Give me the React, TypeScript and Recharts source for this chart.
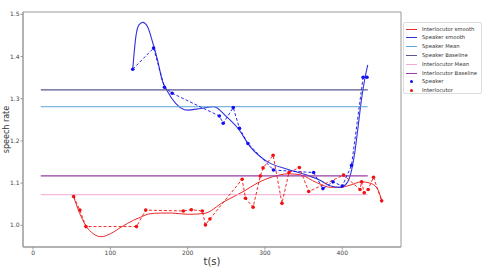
import React from 'react';
import { ComposedChart, Line, XAxis, YAxis, ReferenceArea, Label } from 'recharts';

// Raw observations
const speakerT = [129, 156, 170, 180, 241, 246, 259, 267, 278, 311, 363, 375, 388, 400, 412, 427, 432];
const speakerV = [1.370, 1.420, 1.327, 1.313, 1.259, 1.242, 1.279, 1.230, 1.194, 1.131, 1.125, 1.087, 1.103, 1.093, 1.142, 1.351, 1.351];

const interT = [52.5, 60.6, 68.4, 133.8, 145.8, 194.4, 204.7, 219, 223, 228.8, 270.5, 274.8, 284.7, 294, 297.6, 310.6, 322, 331, 344.5, 356.6, 401.7, 423, 425, 428.4, 433.5, 440.4, 451];
const interV = [1.068, 1.036, 0.997, 0.997, 1.036, 1.034, 1.037, 1.034, 1.001, 1.015, 1.109, 1.064, 1.043, 1.117, 1.136, 1.166, 1.052, 1.125, 1.137, 1.080, 1.119, 1.085, 1.103, 1.077, 1.085, 1.114, 1.058];

// Smoothed curves
const speakerSmoothT = [129, 133, 137, 142, 148, 154.5, 161, 167, 174, 184.5, 199.6, 216.8, 234, 250, 265, 281, 303, 329, 354, 370, 385, 397, 406, 412, 416, 420, 425, 429, 433];
const speakerSmoothV = [1.370, 1.447, 1.475, 1.481, 1.471, 1.435, 1.392, 1.344, 1.317, 1.289, 1.273, 1.277, 1.281, 1.258, 1.230, 1.186, 1.151, 1.133, 1.119, 1.108, 1.093, 1.090, 1.100, 1.130, 1.170, 1.226, 1.300, 1.345, 1.380];

const interSmoothT = [52.5, 60, 68, 78, 88, 100, 115, 130, 140, 150, 165, 180, 200, 221, 247, 273, 290, 310, 330, 345, 367, 385, 397, 410, 425, 436, 445, 451];
const interSmoothV = [1.068, 1.030, 1.000, 0.980, 0.973, 0.980, 0.997, 1.012, 1.020, 1.027, 1.029, 1.029, 1.026, 1.028, 1.056, 1.081, 1.100, 1.115, 1.122, 1.120, 1.101, 1.090, 1.090, 1.095, 1.103, 1.100, 1.088, 1.060];

// Reference levels
const levelSpan = [10, 433];
const speakerMean = 1.281;
const speakerBaseline = 1.321;
const interMean = 1.0725;
const interBaseline = 1.117;

const xTicks = [0, 100, 200, 300, 400];
const yTicks = [1.0, 1.1, 1.2, 1.3, 1.4, 1.5];

const COLORS = {
  interSmooth: '#ea2a2a',
  speakerSmooth: '#3232dc',
  speakerMean: '#5aa6d6',
  speakerBaseline: '#58588e',
  interMean: '#f5a8d2',
  interBaseline: '#9a3aa6',
  speaker: '#1010f0',
  inter: '#f01010',
};

const zip = (t: number[], v: number[]) => t.map((x, i) => ({ t: x, v: v[i] }));
const level = (y: number) => levelSpan.map((x) => ({ t: x, v: y }));

const legendItems = [
  { label: 'Interlocutor smooth', color: COLORS.interSmooth, kind: 'line' },
  { label: 'Speaker smooth', color: COLORS.speakerSmooth, kind: 'line' },
  { label: 'Speaker Mean', color: COLORS.speakerMean, kind: 'line' },
  { label: 'Speaker Baseline', color: COLORS.speakerBaseline, kind: 'line' },
  { label: 'Interlocutor Mean', color: COLORS.interMean, kind: 'line' },
  { label: 'Interlocutor Baseline', color: COLORS.interBaseline, kind: 'line' },
  { label: 'Speaker', color: COLORS.speaker, kind: 'dot' },
  { label: 'Interlocutor', color: COLORS.inter, kind: 'dot' },
];

const FONT = '"DejaVu Sans", sans-serif';

const Dot = (color: string) => (props: any) => {
  const { cx, cy, index } = props;
  if (cx == null || cy == null) return <g key={index} />;
  return <circle key={index} cx={cx} cy={cy} r={1.8} fill={color} stroke="none" />;
};

export default function App() {
  return (
    <div style={{ position: 'absolute', left: 0, top: 0, width: 485, height: 268, background: '#fff' }}>
      <ComposedChart width={485} height={268} margin={{ top: 12, right: 84, bottom: 0, left: 0 }}>
        <XAxis
          type="number"
          dataKey="t"
          domain={[-13, 476]}
          ticks={xTicks}
          allowDataOverflow
          height={21}
          tick={{ fontSize: 6, fill: '#444', fontFamily: FONT }}
          tickSize={2.5}
          tickMargin={1}
          stroke="#999"
        >
          <Label value="t(s)" position="insideBottom" offset={3} style={{ fontSize: 10, fill: '#333', fontFamily: FONT }} />
        </XAxis>
        <YAxis
          type="number"
          dataKey="v"
          domain={[0.9486, 1.5055]}
          ticks={yTicks}
          allowDataOverflow
          width={23}
          tick={{ fontSize: 6, fill: '#444', fontFamily: FONT }}
          tickFormatter={(v: number) => v.toFixed(1)}
          tickSize={2.5}
          tickMargin={1}
          stroke="#999"
        >
          <Label
            value="speech rate"
            angle={-90}
            position="insideLeft"
            offset={6}
            textAnchor="middle"
            style={{ fontSize: 8, fill: '#333', fontFamily: FONT }}
          />
        </YAxis>
        <ReferenceArea x1={-13} x2={476} y1={0.9486} y2={1.5055} fill="none" stroke="#999" strokeWidth={1} />

        <Line data={zip(interSmoothT, interSmoothV)} dataKey="v" type="monotone" stroke={COLORS.interSmooth} strokeWidth={1} dot={false} isAnimationActive={false} />
        <Line data={zip(speakerSmoothT, speakerSmoothV)} dataKey="v" type="monotone" stroke={COLORS.speakerSmooth} strokeWidth={1.1} dot={false} isAnimationActive={false} />
        <Line data={level(speakerMean)} dataKey="v" type="linear" stroke={COLORS.speakerMean} strokeWidth={1} dot={false} isAnimationActive={false} />
        <Line data={level(speakerBaseline)} dataKey="v" type="linear" stroke={COLORS.speakerBaseline} strokeWidth={1.2} dot={false} isAnimationActive={false} />
        <Line data={level(interMean)} dataKey="v" type="linear" stroke={COLORS.interMean} strokeWidth={1} dot={false} isAnimationActive={false} />
        <Line data={level(interBaseline)} dataKey="v" type="linear" stroke={COLORS.interBaseline} strokeWidth={1.2} dot={false} isAnimationActive={false} />
        <Line data={zip(speakerT, speakerV)} dataKey="v" type="linear" stroke={COLORS.speaker} strokeWidth={0.9} strokeDasharray="3 2" dot={Dot(COLORS.speaker)} activeDot={false} isAnimationActive={false} />
        <Line data={zip(interT, interV)} dataKey="v" type="linear" stroke={COLORS.inter} strokeWidth={0.9} strokeDasharray="3 2" dot={Dot(COLORS.inter)} activeDot={false} isAnimationActive={false} />
      </ComposedChart>

      <div
        style={{
          position: 'absolute',
          left: 403,
          top: 22,
          width: 79,
          height: 72,
          boxSizing: 'border-box',
          border: '1px solid #ddd',
          borderRadius: 2,
          background: '#fff',
          fontFamily: FONT,
          fontSize: 5.3,
          color: '#333',
        }}
      >
        {legendItems.map((it, i) => (
          <div key={it.label} style={{ position: 'absolute', left: 0, top: Math.round(1.7 + i * 8.77), height: 8, width: 78, display: 'flex', alignItems: 'center' }}>
            <div style={{ width: 18, height: 8, position: 'relative' }}>
              {it.kind === 'line' ? (
                <div style={{ position: 'absolute', left: 2, top: 4, width: 11, height: 1, background: it.color }} />
              ) : (
                <div style={{ position: 'absolute', left: 6, top: 2.5, width: 3, height: 3, borderRadius: '50%', background: it.color }} />
              )}
            </div>
            <span style={{ whiteSpace: 'nowrap', lineHeight: '8px' }}>{it.label}</span>
          </div>
        ))}
      </div>
    </div>
  );
}
